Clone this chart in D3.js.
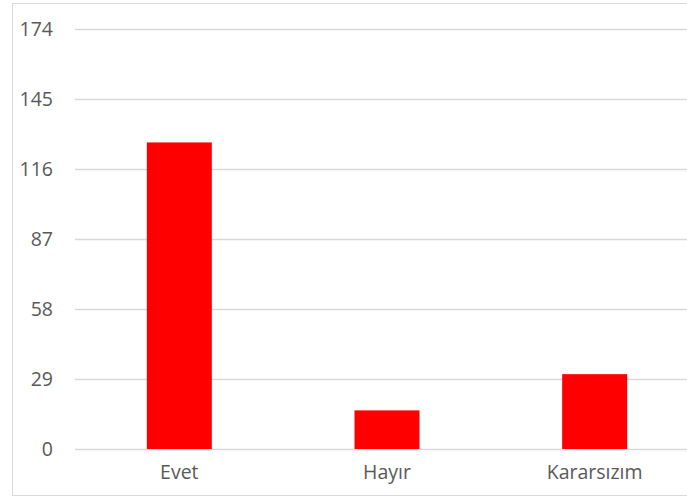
<!DOCTYPE html>
<html>
<head>
<meta charset="utf-8">
<script src="https://cdn.jsdelivr.net/npm/d3@7"></script>
<style>
  body { margin: 0; background: #fff; }
  svg { display: block; font-family: "Open Sans", sans-serif; }
</style>
</head>
<body>
<div id="chart"></div>
<script>
var categories = ["Evet", "Hayır", "Kararsızım"];
var values = [127, 16, 31];
var tickValues = [0, 29, 58, 87, 116, 145, 174];

var width = 687, height = 497;

var svg = d3.select("#chart").append("svg")
    .attr("width", width)
    .attr("height", height);

// chart frame (cut off on the right like the original)
svg.append("rect")
    .attr("x", 12.5)
    .attr("y", 3.5)
    .attr("width", 700)
    .attr("height", 492)
    .attr("fill", "#fff")
    .attr("stroke", "#d9d9d9")
    .attr("stroke-width", 1);

var x = d3.scaleBand()
    .domain(categories)
    .range([75.5, 698.5])
    .paddingInner(0.687)
    .paddingOuter(0.3435);

var y = d3.scaleLinear()
    .domain([0, 174])
    .range([449, 29]);

// gridlines
svg.append("g")
    .selectAll("line")
    .data(tickValues)
    .join("line")
    .attr("x1", 75)
    .attr("x2", 702)
    .attr("y1", d => Math.round(y(d)) + 0.5)
    .attr("y2", d => Math.round(y(d)) + 0.5)
    .attr("stroke", "#d9d9d9")
    .attr("stroke-width", 1.3);

// y labels
svg.append("g")
    .selectAll("text")
    .data(tickValues)
    .join("text")
    .attr("x", 53)
    .attr("y", d => y(d))
    .attr("dy", "0.35em")
    .attr("text-anchor", "end")
    .attr("fill", "#595959")
    .style("font-size", "19.5px")
    .text(d => d);

// bars
svg.append("g")
    .selectAll("rect")
    .data(values)
    .join("rect")
    .attr("x", (d, i) => x(categories[i]))
    .attr("width", x.bandwidth())
    .attr("y", d => y(d))
    .attr("height", d => y(0) - y(d))
    .attr("fill", "#ff0000");

// x labels
svg.append("g")
    .selectAll("text")
    .data(categories)
    .join("text")
    .attr("x", d => x(d) + x.bandwidth() / 2)
    .attr("y", 479)
    .attr("text-anchor", "middle")
    .attr("fill", "#595959")
    .style("font-size", "19.5px")
    .text(d => d);
</script>
</body>
</html>
